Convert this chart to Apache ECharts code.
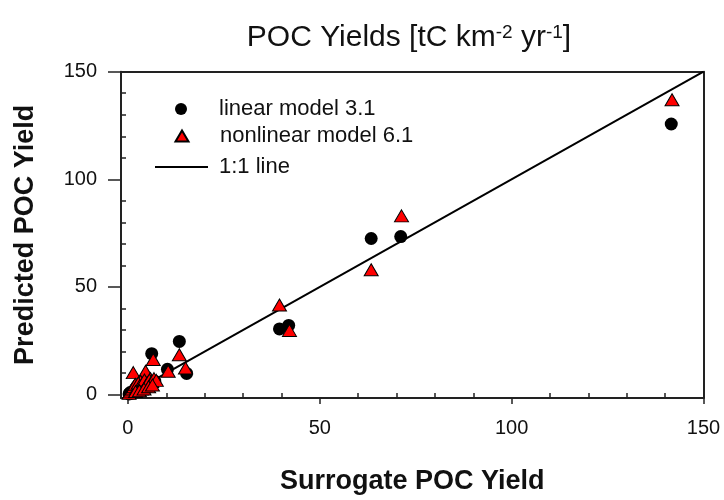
<!DOCTYPE html>
<html>
<head>
<meta charset="utf-8">
<script src="https://cdn.jsdelivr.net/npm/echarts@6/dist/echarts.min.js"></script>
<style>
html,body{margin:0;padding:0;background:#fff;}
#chart{width:724px;height:500px;}
</style>
</head>
<body>
<div id="chart"></div>
<script>
// ---- data ----
const linearX = [141.6, 63.4, 71.1, 39.5, 41.9, 13.4, 6.2, 10.3, 15.3,
  0.3, 0.6, 1.0, 1.4, 1.8, 2.2, 2.6, 3.0, 3.4, 3.8, 4.3, 4.8, 5.3, 5.8, 6.4, 7.0, 2.4, 3.6, 5.0];
const linearY = [125.7, 72.5, 73.4, 30.5, 32.1, 24.7, 19.0, 11.7, 9.8,
  0.3, 0.9, 0.6, 1.5, 1.1, 2.3, 1.6, 2.8, 2.2, 3.4, 2.9, 4.0, 3.6, 4.8, 5.4, 6.2, 3.8, 5.0, 6.0];
const nonlinX = [141.8, 71.3, 63.4, 39.5, 42.1, 13.4, 6.6, 10.5, 15.0, 1.4, 4.6, 5.9, 3.3,
  0.3, 0.7, 1.1, 1.5, 1.9, 2.3, 2.7, 3.1, 3.5, 3.9, 4.3, 4.7, 5.1, 5.6, 6.2, 6.8, 7.4, 2.0, 3.0, 4.2, 5.4, 6.4];
const nonlinY = [137.0, 83.0, 58.0, 41.6, 29.8, 18.5, 16.3, 10.8, 12.3, 10.2, 10.8, 7.4, 6.2,
  0.6, 1.6, 2.6, 3.6, 4.8, 3.0, 5.4, 4.2, 2.6, 5.2, 6.8, 4.2, 5.6, 6.8, 6.0, 7.4, 6.6, 1.4, 1.8, 2.6, 3.6, 4.4];
const oneToOneX = [0, 150];
const oneToOneY = [0, 150];
const majorTicks = [0, 50, 100, 150];
const minorTicks = [10, 20, 30, 40, 60, 70, 80, 90, 110, 120, 130, 140];
const seriesNames = ['linear model 3.1', 'nonlinear model 6.1', '1:1 line'];
const titleText = '{m|POC Yields [tC km}{s|-2}{m| yr}{s|-1}{m|]}';
const xTitle = 'Surrogate POC Yield';
const yTitle = 'Predicted POC Yield';

const zip = (a, b) => a.map((v, i) => [v, b[i]]);
const FONT = 'Liberation Sans, Arial, Helvetica, sans-serif';
const AX = '#222';
const xMin = -1.8, yMin = -1.6, axMax = 150;

const chart = echarts.init(document.getElementById('chart'), null, {renderer: 'canvas'});
const legTxt = (pad) => ({fontFamily: FONT, fontSize: 22, color: '#111', padding: [0, 0, 0, pad]});
chart.setOption({
  animation: false,
  backgroundColor: '#fff',
  title: {
    text: titleText, left: 409, top: 23, padding: 0, textAlign: 'center',
    textStyle: {
      fontFamily: FONT, fontWeight: 'normal', color: '#111',
      rich: {
        m: {fontFamily: FONT, fontSize: 30, lineHeight: 30, color: '#111'},
        s: {fontFamily: FONT, fontSize: 19, lineHeight: 30, verticalAlign: 'top', color: '#111'}
      }
    }
  },
  legend: [
    {
      orient: 'vertical', padding: 0, selectedMode: false, left: 175, top: 98,
      itemWidth: 12, itemHeight: 12, textStyle: legTxt(27),
      data: [{name: seriesNames[0], icon: 'circle'}]
    },
    {
      orient: 'vertical', padding: 0, selectedMode: false, left: 174.5, top: 125,
      itemWidth: 13, itemHeight: 11, textStyle: legTxt(26.5),
      data: [{name: seriesNames[1], icon: 'triangle'}]
    },
    {
      orient: 'vertical', padding: 0, selectedMode: false, left: 155, top: 156,
      itemWidth: 53, itemHeight: 2, textStyle: legTxt(6),
      data: [{name: seriesNames[2], icon: 'rect', itemStyle: {color: '#000'}}]
    }
  ],
  grid: {left: 121, right: 20.5, top: 71.7, bottom: 100, containLabel: false},
  xAxis: [
    {
      type: 'value', position: 'bottom', min: xMin, max: axMax,
      name: xTitle, nameLocation: 'middle', nameGap: 70,
      nameTextStyle: {fontFamily: FONT, fontSize: 27, fontWeight: 'bold', color: '#111'},
      axisLine: {show: true, onZero: false, lineStyle: {color: AX, width: 2}},
      axisTick: {show: true, inside: false, length: 6, customValues: majorTicks, lineStyle: {color: AX, width: 1.5}},
      axisLabel: {show: true, customValues: majorTicks, margin: 20, fontFamily: FONT, fontSize: 20, color: '#111'},
      splitLine: {show: false}
    },
    {
      type: 'value', position: 'bottom', min: xMin, max: axMax,
      axisLine: {show: false, onZero: false},
      axisTick: {show: true, inside: true, length: 5, customValues: minorTicks, lineStyle: {color: AX, width: 1.5}},
      axisLabel: {show: false}, splitLine: {show: false}
    },
    {
      type: 'value', position: 'top', min: xMin, max: axMax,
      axisLine: {show: true, onZero: false, lineStyle: {color: AX, width: 2}},
      axisTick: {show: false}, axisLabel: {show: false}, splitLine: {show: false}
    }
  ],
  yAxis: [
    {
      type: 'value', position: 'left', min: yMin, max: axMax,
      name: yTitle, nameLocation: 'middle', nameGap: 82,
      nameTextStyle: {fontFamily: FONT, fontSize: 27, fontWeight: 'bold', color: '#111'},
      axisLine: {show: true, onZero: false, lineStyle: {color: AX, width: 2}},
      axisTick: {show: true, inside: false, length: 13, customValues: majorTicks, lineStyle: {color: AX, width: 1.5}},
      axisLabel: {show: true, customValues: majorTicks, margin: 24, fontFamily: FONT, fontSize: 20, color: '#111'},
      splitLine: {show: false}
    },
    {
      type: 'value', position: 'left', min: yMin, max: axMax,
      axisLine: {show: false, onZero: false},
      axisTick: {show: true, inside: true, length: 5, customValues: minorTicks, lineStyle: {color: AX, width: 1.5}},
      axisLabel: {show: false}, splitLine: {show: false}
    },
    {
      type: 'value', position: 'right', min: yMin, max: axMax,
      axisLine: {show: true, onZero: false, lineStyle: {color: AX, width: 2}},
      axisTick: {show: false}, axisLabel: {show: false}, splitLine: {show: false}
    }
  ],
  series: [
    {
      name: seriesNames[2], type: 'line', xAxisIndex: 0, yAxisIndex: 0,
      data: zip(oneToOneX, oneToOneY), symbol: 'none', showSymbol: false,
      lineStyle: {color: '#000', width: 2}, itemStyle: {color: '#000'}, z: 2
    },
    {
      name: seriesNames[0], type: 'scatter', xAxisIndex: 0, yAxisIndex: 0,
      data: zip(linearX, linearY), symbol: 'circle', symbolSize: 13,
      itemStyle: {color: '#000', borderColor: '#000', borderWidth: 0, opacity: 1}, z: 3
    },
    {
      name: seriesNames[1], type: 'scatter', xAxisIndex: 0, yAxisIndex: 0,
      data: zip(nonlinX, nonlinY), symbol: 'triangle', symbolSize: [14, 12],
      itemStyle: {color: '#ff0000', borderColor: '#000', borderWidth: 1, opacity: 1}, z: 4
    }
  ]
});
</script>
</body>
</html>
